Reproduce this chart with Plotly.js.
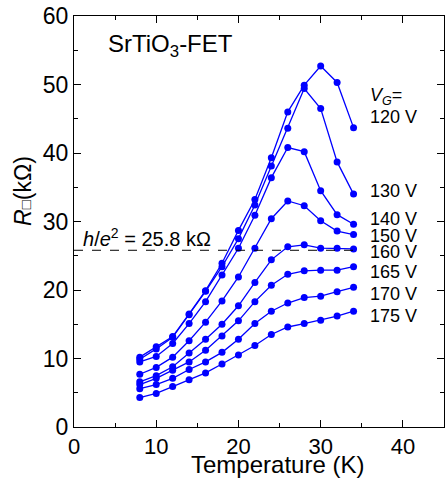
<!DOCTYPE html>
<html>
<head>
<meta charset="utf-8">
<script src="https://cdn.plot.ly/plotly-3.0.1.min.js"></script>
<style>html,body{margin:0;padding:0;background:#fff;}#chart{width:447px;height:478px;}</style>
</head>
<body>
<div id="chart"></div>
<script>
const temperature = [8, 10, 12, 14, 16, 18, 20, 22, 24, 26, 28, 30, 32, 34];
const r120 = [10.2, 11.7, 13.2, 16.5, 19.9, 23.9, 28.7, 33.2, 39.3, 46.0, 49.9, 52.7, 50.3, 43.7];
const r130 = [9.9, 11.4, 13.1, 16.4, 19.8, 23.4, 27.5, 32.4, 38.1, 43.6, 49.4, 46.5, 38.7, 34.0];
const r140 = [9.5, 10.3, 12.2, 15.1, 18.3, 22.2, 26.1, 30.9, 36.4, 40.8, 40.2, 34.5, 31.0, 29.6];
const r150 = [7.7, 8.7, 10.2, 12.6, 15.3, 18.4, 21.9, 26.1, 30.4, 33.0, 32.3, 30.1, 28.6, 28.1];
const r160 = [6.6, 7.5, 8.8, 10.8, 12.8, 15.0, 17.7, 21.1, 24.4, 26.3, 26.6, 26.1, 26.1, 26.0];
const r165 = [6.2, 7.1, 8.3, 9.5, 11.2, 13.3, 15.5, 18.3, 20.7, 22.3, 22.8, 22.9, 22.9, 23.4];
const r170 = [5.6, 6.2, 7.1, 8.4, 9.5, 10.9, 12.8, 15.1, 16.9, 18.1, 18.9, 19.1, 19.75, 20.4];
const r175 = [4.3, 4.9, 5.9, 6.9, 7.9, 9.2, 10.5, 11.9, 13.5, 14.6, 15.1, 15.6, 16.2, 16.9];
const seriesValues = [r120, r130, r140, r150, r160, r165, r170, r175];
const seriesLabels = ["120 V", "130 V", "140 V", "150 V", "160 V", "165 V", "170 V", "175 V"];
const labelY = [45.3, 34.5, 30.4, 27.9, 25.6, 22.6, 19.4, 16.2];
const quantumResistance = 25.8;

const traces = seriesValues.map((vals, i) => ({
  x: temperature, y: vals, type: 'scatter', mode: 'lines+markers',
  name: seriesLabels[i],
  line: {color: '#0000ff', width: 1.3},
  marker: {color: '#0000ff', size: 7},
  showlegend: false
}));

const FONT = 'Liberation Sans, Arial, sans-serif';
const annotations = seriesLabels.map((t, i) => ({
  x: 35.7, y: labelY[i], xref: 'x', yref: 'y', text: t, showarrow: false,
  xanchor: 'left', yanchor: 'middle', font: {family: FONT, size: 18, color: '#000'}
}));
annotations.push({x: 35.7, y: 48.3, xref: 'x', yref: 'y', text: '<i>V<sub>G</sub></i>=', showarrow: false,
  xanchor: 'left', yanchor: 'middle', font: {family: FONT, size: 18, color: '#000'}});
annotations.push({x: 3.9, y: 55.7, xref: 'x', yref: 'y', text: 'SrTiO<sub>3</sub>-FET', showarrow: false,
  xanchor: 'left', yanchor: 'middle', font: {family: FONT, size: 24, color: '#000'}});
annotations.push({x: 0.8, y: 27.7, xref: 'x', yref: 'y', text: '<i>h</i>/<i>e</i><sup>2</sup> = 25.8 kΩ', showarrow: false,
  xanchor: 'left', yanchor: 'middle', font: {family: FONT, size: 20, color: '#000'}});
annotations.push({x: -0.14, y: 0.575, xref: 'paper', yref: 'paper',
  text: '<i>R</i><span style="font-size:15px">□</span>(kΩ)', showarrow: false,
  textangle: -90, xanchor: 'center', yanchor: 'middle', font: {family: FONT, size: 23, color: '#000'}});
annotations.push({x: 0.55, y: -0.092, xref: 'paper', yref: 'paper', text: 'Temperature (K)', showarrow: false,
  xanchor: 'center', yanchor: 'middle', font: {family: FONT, size: 24, color: '#000'}});

const layout = {
  width: 447, height: 478,
  margin: {l: 74, r: 3, t: 16, b: 51},
  paper_bgcolor: '#fff', plot_bgcolor: '#fff',
  font: {family: FONT, color: '#000'},
  xaxis: {
    range: [0, 45], dtick: 10, tick0: 0, ticks: 'inside', ticklen: 7, tickcolor: '#000',
    showline: true, linecolor: '#000', linewidth: 1, mirror: 'ticks', showgrid: false, zeroline: false,
    minor: {dtick: 5, ticks: 'inside', ticklen: 4, tickcolor: '#000', showgrid: false},
    tickfont: {family: FONT, size: 22, color: '#000'}
  },
  yaxis: {
    range: [0, 60], dtick: 10, tick0: 0, ticks: 'inside', ticklen: 7, tickcolor: '#000',
    showline: true, linecolor: '#000', linewidth: 1, mirror: 'ticks', showgrid: false, zeroline: false,
    minor: {dtick: 5, ticks: 'inside', ticklen: 4, tickcolor: '#000', showgrid: false},
    tickfont: {family: FONT, size: 23, color: '#000'}
  },
  shapes: [{type: 'line', xref: 'x', yref: 'y', x0: 0, x1: 35, y0: quantumResistance, y1: quantumResistance,
    line: {color: '#000', width: 1, dash: 'dash'}}],
  annotations: annotations
};

Plotly.newPlot('chart', traces, layout, {displayModeBar: false, staticPlot: true});
</script>
</body>
</html>
